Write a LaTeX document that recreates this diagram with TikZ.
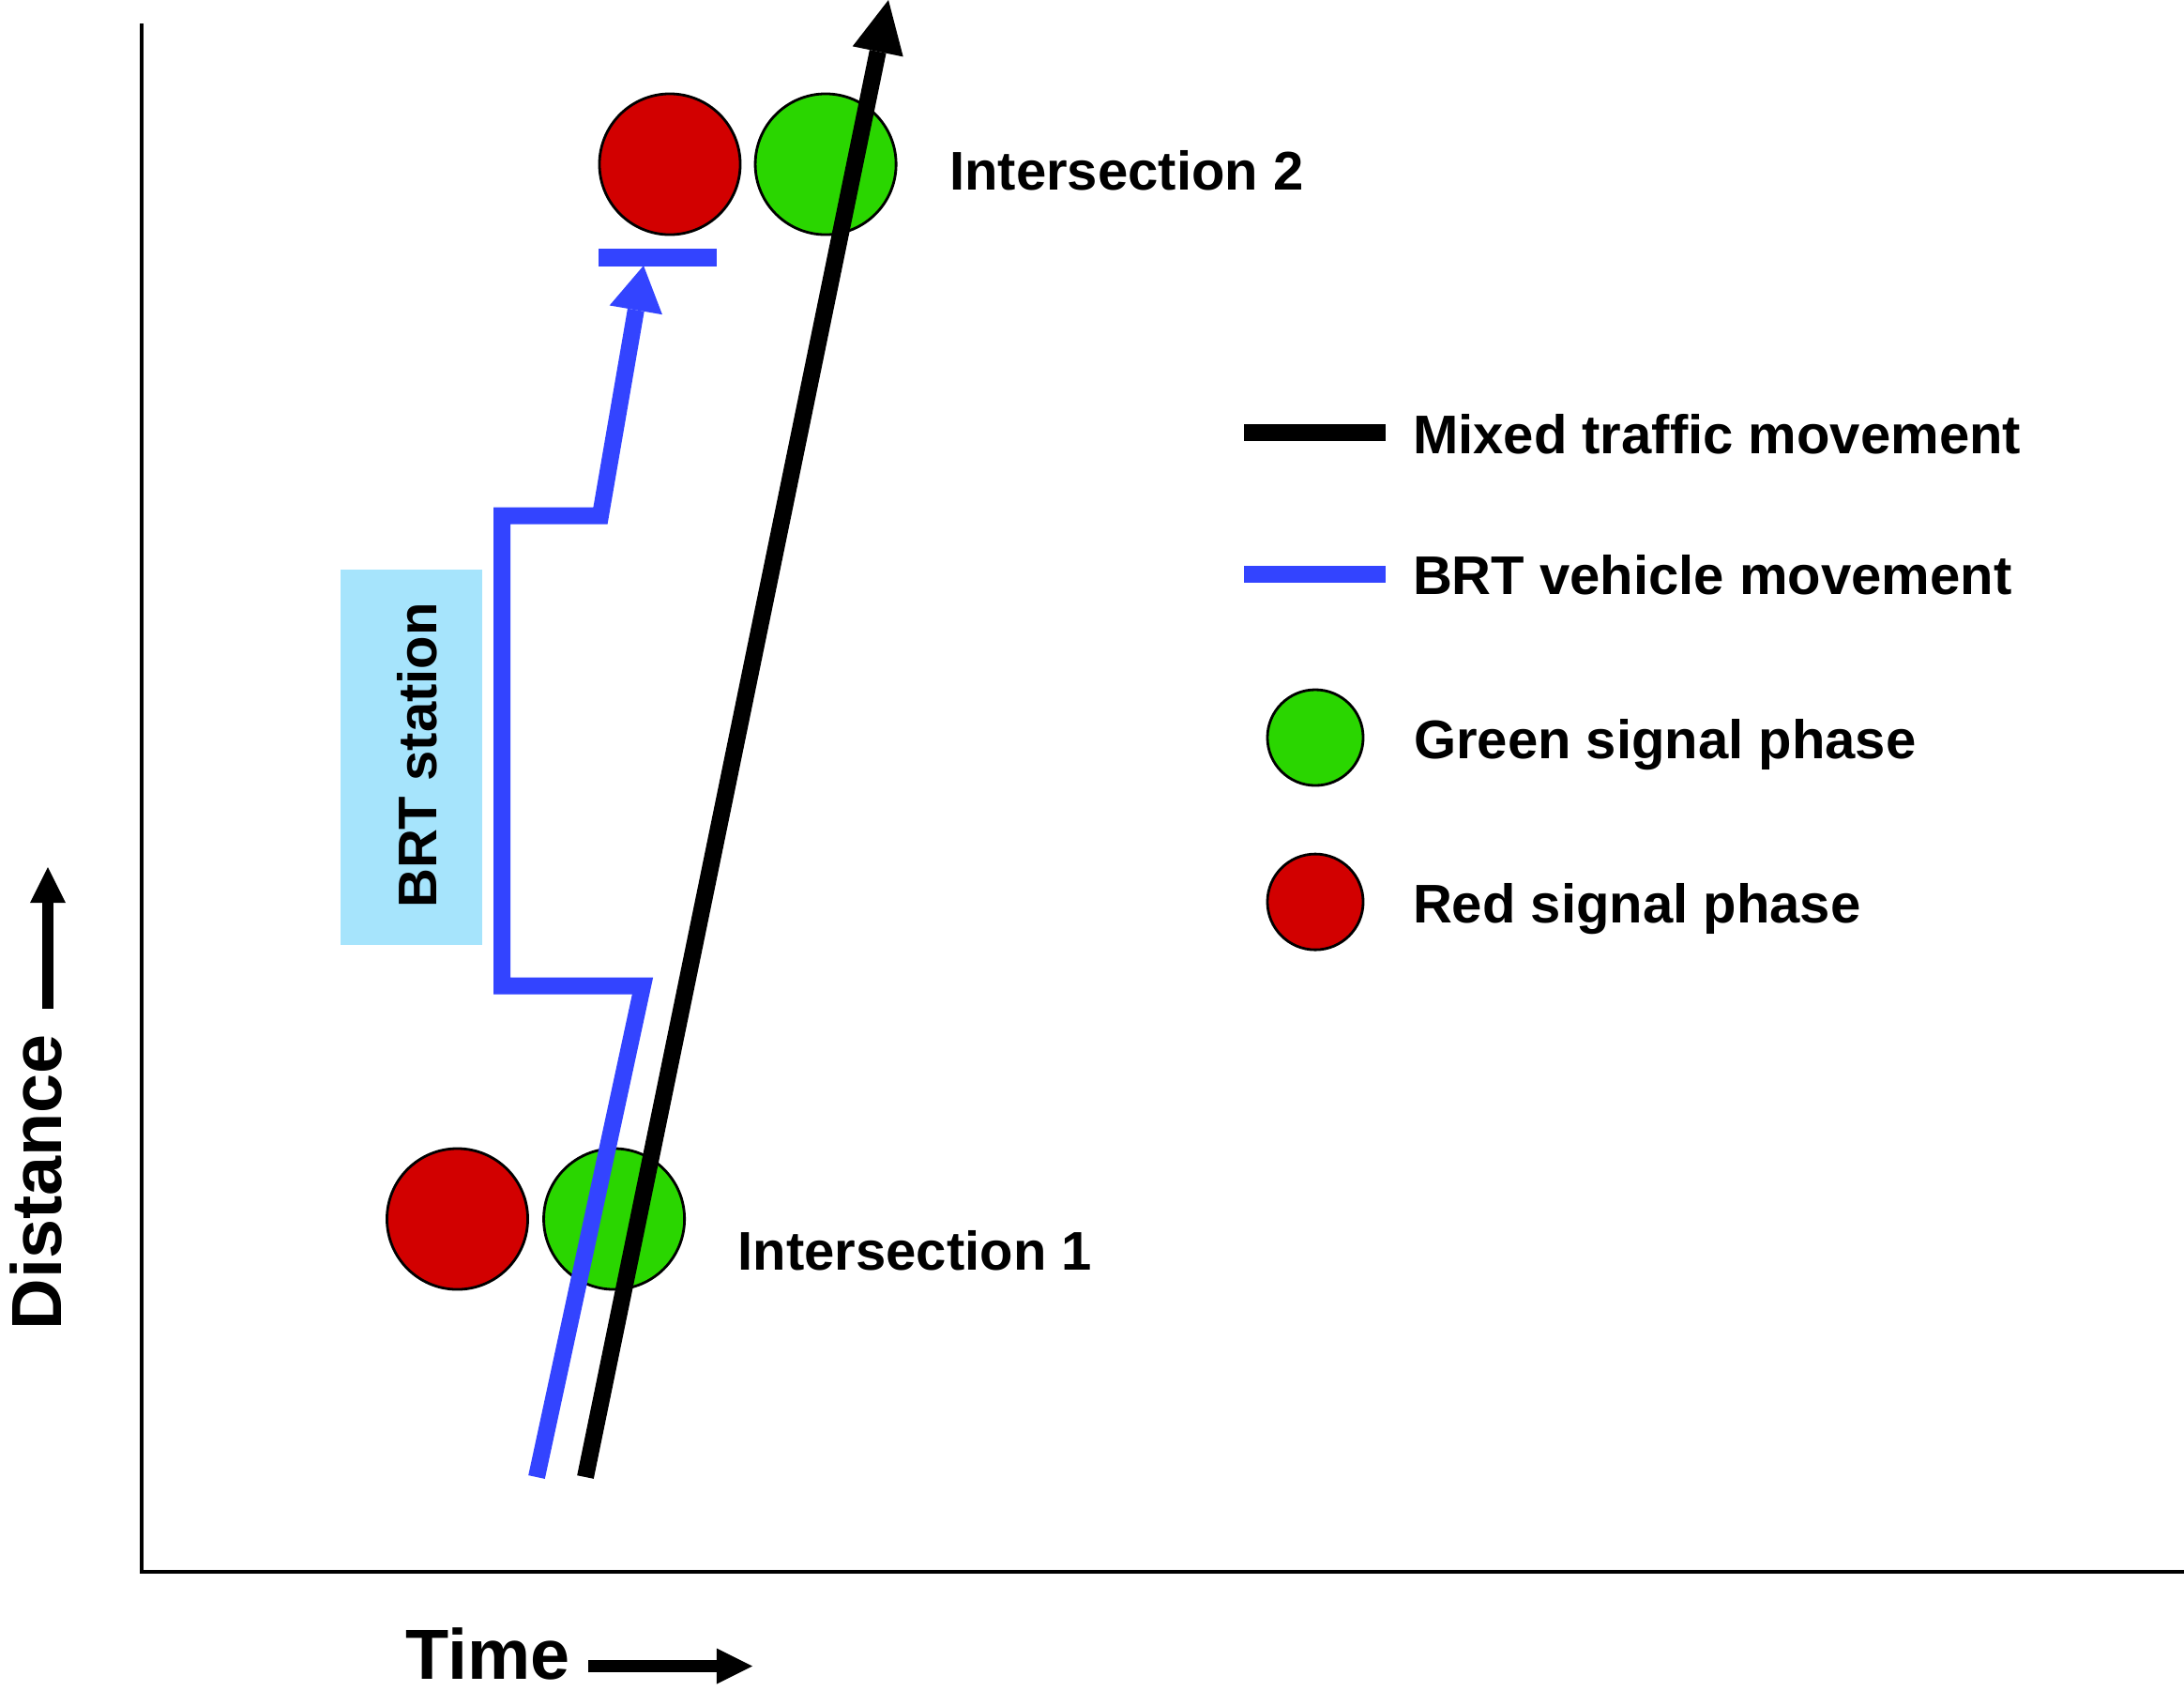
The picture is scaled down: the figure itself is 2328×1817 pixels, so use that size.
\documentclass[tikz,border=0pt]{standalone}
\usepackage{fontspec}
\setmainfont{Liberation Sans}
\usepackage{tikz}
\usetikzlibrary{arrows.meta, positioning}
\definecolor{sigred}{RGB}{210,0,0}
\definecolor{siggreen}{RGB}{42,214,0}
\definecolor{brtblue}{RGB}{51,68,255}
\definecolor{stationblue}{RGB}{166,228,252}
\begin{document}
\begin{tikzpicture}[x=0.01cm, y=-0.01cm,
    signal/.style={circle, draw=black, line width=0.8pt, inner sep=0, outer sep=0, minimum size=1.5cm},
    keysignal/.style={signal, minimum size=1.02cm},
    txt/.style={font=\fontsize{16.5}{19}\selectfont\bfseries, inner sep=0, outer sep=0, text height=0.41cm, text depth=0cm},
    bigtxt/.style={font=\fontsize{21.5}{26}\selectfont\bfseries, inner sep=0},
    mixed/.style={line width=0.18cm, draw=black},
    brt/.style={line width=0.18cm, draw=brtblue},
    labelarrow/.style={line width=0.125cm, -{Triangle[length=0.38cm, width=0.38cm, line width=0pt]}}]
    \useasboundingbox (0,0) rectangle (2328,1817);
    \coordinate (ytop) at (151,25);%top of distance axis
    \coordinate (org) at (151,1675);%origin
    \coordinate (xend) at (2328,1675);%end of time axis
    \draw[line width=0.035cm] (ytop) -- (org) -- (xend);%draws the axes
    \node (stnbox) [fill=stationblue, inner sep=0, minimum width=1.51cm, minimum height=4cm] at (438.5,807){};%draws the station box
    \node (stn) [txt, rotate=90] at (444.5,805){BRT station};%station label
    \node (r2) [signal, fill=sigred] at (714,175){};%red signal at intersection 2
    \node (g2) [signal, fill=siggreen, right=0.16cm of r2]{};%green signal at intersection 2
    \node (r1) [signal, fill=sigred] at (487.5,1299){};%red signal at intersection 1
    \node (g1) [signal, fill=siggreen, right=0.17cm of r1]{};%green signal at intersection 1
    \node (i2) [txt, right=0.57cm of g2, yshift=-0.065cm]{Intersection 2};
    \node (i1) [txt, right=0.57cm of g1, yshift=-0.335cm]{Intersection 1};
    \coordinate (sb0) at (638,274.5);
    \coordinate (sb1) at (764,274.5);
    \draw[brt, line width=0.19cm] (sb0) -- (sb1);%stop line under red signal
    \coordinate (b0) at (572,1574);
    \coordinate (b1) at (685,1050.5);
    \coordinate (b2) at (535,1050.5);
    \coordinate (b3) at (535,549.5);
    \coordinate (b4) at (640,549.5);
    \coordinate (b5) at (686,283);
    \draw[brt, line join=miter, -{Triangle[length=0.48cm, width=0.57cm, line width=0pt]}] (b0) -- (b1) -- (b2) -- (b3) -- (b4) -- (b5);%BRT trajectory
    \coordinate (mk0) at (624,1574);
    \coordinate (mk1) at (947,0);
    \draw[mixed, -{Triangle[length=0.56cm, width=0.55cm, line width=0pt]}] (mk0) -- (mk1);%mixed traffic trajectory
    \coordinate (lk0) at (1326,461);
    \coordinate (lk1) at (1477,461);
    \draw[mixed] (lk0) -- (lk1);%legend black line
    \node (lkt) [txt, right=0.29cm of lk1, yshift=-0.015cm]{Mixed traffic movement};
    \coordinate (lb0) at (1326,611.5);
    \coordinate (lb1) at (1477,611.5);
    \draw[brt] (lb0) -- (lb1);%legend blue line
    \node (lbt) [txt, right=0.29cm of lb1, yshift=-0.01cm]{BRT vehicle movement};
    \node (lg) [keysignal, fill=siggreen] at (1402,786){};%legend green signal
    \node (lgt) [txt, right=0.54cm of lg, yshift=-0.015cm]{Green signal phase};
    \node (lr) [keysignal, fill=sigred, below=0.73cm of lg]{};%legend red signal
    \node (lrt) [txt, right=0.53cm of lr, yshift=-0.015cm]{Red signal phase};
    \node (time) [bigtxt, anchor=base west] at (431.5,1789){Time};
    \coordinate (t0) at (627,1775.5);
    \coordinate (t1) at (802,1775.5);
    \draw[labelarrow] (t0) -- (t1);%time direction
    \node (dist) [bigtxt, anchor=base west, rotate=90] at (65.5,1418){Distance};
    \coordinate (d0) at (51,1075);
    \coordinate (d1) at (51,924);
    \draw[labelarrow] (d0) -- (d1);%distance direction
\end{tikzpicture}
\end{document}
